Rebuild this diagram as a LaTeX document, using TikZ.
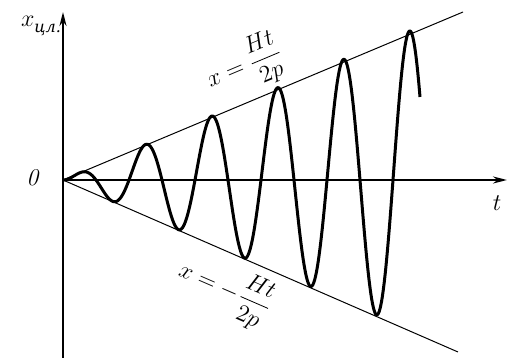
\documentclass[tikz,border=0pt]{standalone}
\usepackage{fontspec}
\newfontfamily\cyr{DejaVu Serif}
\usetikzlibrary{arrows.meta}
\begin{document}
\begin{tikzpicture}[x=0.5pt,y=0.5pt,
    axis/.style={line width=1pt,-{Stealth[length=7pt,width=3.5pt]}},
    bound/.style={line width=0.5pt},
    wave/.style={line width=1.5pt,line join=round}]
    \useasboundingbox (-63,-178) rectangle (447,180);

    % Axes
    \coordinate (O) at (0,0);
    \coordinate (ybot) at (0,-178);
    \coordinate (ytop) at (0,168);
    \coordinate (tend) at (444,0);
    \draw[axis] (ybot) -- (ytop);
    \draw[axis] (O) -- (tend);
    \node (zero) at (-30,2) {\large\textit{0}};
    \node (tlab) at (434,-23) {\large$t$};
    \node (xlab) at (-22,154) {\large$x$\raisebox{-0.6ex}{\footnotesize\cyr\itshape цл.}};

    % Envelope lines x = +-Ht/2p
    \coordinate (uend) at (400,168);
    \coordinate (lend) at (395,-172);
    \draw[bound] (O) -- (uend);
    \draw[bound] (O) -- (lend);
    \node[rotate=22.8] (ulab) at (182,113) {\large$x=\displaystyle\frac{Ht}{2p}$};
    \node[rotate=-23.5] (llab) at (162,-110) {\large$x=-\displaystyle\frac{Ht}{2p}$};

    % Growing oscillation
    \draw[wave,domain=0:357,samples=500,smooth]
      plot (\x,{0.43*\x*sin(\x/33*180)});
  \end{tikzpicture}
\end{document}
